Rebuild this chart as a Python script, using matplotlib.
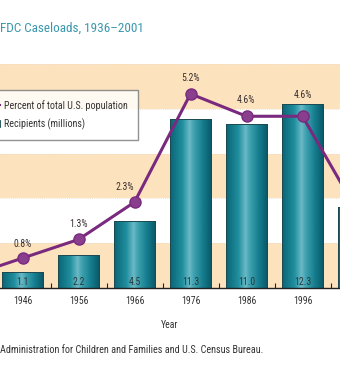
import matplotlib
matplotlib.use("Agg")
import matplotlib.pyplot as plt
import numpy as np
from matplotlib.colors import LinearSegmentedColormap
from matplotlib.lines import Line2D
from matplotlib.patches import Patch

plt.rcParams['font.family'] = ['Roboto Condensed', 'DejaVu Sans']

years = ['1936', '1946', '1956', '1966', '1976', '1986', '1996', '2001']
recipients = [0.5, 1.1, 2.2, 4.5, 11.3, 11.0, 12.3, 5.4]
recipient_labels = ['0.5', '1.1', '2.2', '4.5', '11.3', '11.0', '12.3', '5.4']
percent = [0.3, 0.8, 1.3, 2.3, 5.2, 4.6, 4.6, 2.0]
percent_labels = ['0.3%', '0.8%', '1.3%', '2.3%', '5.2%', '4.6%', '4.6%', '2.0%']

W, H = 340, 370
fig = plt.figure(figsize=(W / 100, H / 100), dpi=100)
fig.patch.set_facecolor('white')

def fx(px):
    return px / W

def fy(py):
    return (H - py) / H

ax = fig.add_axes([0, fy(288), 1, fy(64) - fy(288)])
ax.set_facecolor('white')
x = np.arange(len(years))
xlim = (1 - 22.5 / 56, 1 + (340 - 22.5) / 56)
visible = range(1, 7)

for lo in (0, 6, 12):
    ax.axhspan(lo, lo + 3, color='#fde2be', zorder=0, lw=0)
for yv in (3, 6, 9, 12, 15):
    ax.axhline(yv, color='#eadcc8', lw=0.6, ls=(0, (1, 1.5)), zorder=0.5)

cmap = LinearSegmentedColormap.from_list('bar', [
    (0.0, '#0b6676'), (0.3, '#1f8e9e'), (0.48, '#6dbac6'),
    (0.58, '#3fa2b0'), (0.8, '#167f90'), (1.0, '#0a5b6b')])
grad = np.linspace(0, 1, 64).reshape(1, -1)
bw = 41 / 56
bars = ax.bar(x, recipients, width=bw, color='#1f8e9e', edgecolor='#1d4a52',
              linewidth=0.7, zorder=2)
for b in bars:
    x0, y0 = b.get_x(), b.get_y()
    w, h = b.get_width(), b.get_height()
    im = ax.imshow(grad, cmap=cmap, extent=(x0, x0 + w, y0, y0 + h),
                   aspect='auto', zorder=2.1, interpolation='bicubic')
    im.set_clip_path(b)
    ax.add_patch(plt.Rectangle((x0, y0), w, h, fill=False, edgecolor='#1d4a52',
                               lw=0.7, zorder=2.2))

for i in visible:
    ax.text(x[i], 0.42, recipient_labels[i], ha='center', va='center',
            fontsize=7, color='#2a3a3c', zorder=3)

ax.set_xlim(*xlim)
ax.set_ylim(0, 15)
ax.set_xticks(x)
ax.set_xticklabels(years, fontsize=7, color='#333333')
ax.tick_params(axis='x', which='major', length=0, pad=6)
ax.set_xticks(x[:-1] + 0.5, minor=True)
ax.tick_params(axis='x', which='minor', length=3.5, direction='in', width=0.8,
               color='#222222')
ax.set_yticks([])
for s in ('left', 'right', 'top'):
    ax.spines[s].set_visible(False)
ax.spines['bottom'].set_color('#222222')
ax.spines['bottom'].set_linewidth(1.0)
ax.spines['bottom'].set_zorder(4)
ax.set_xlabel('Year', fontsize=7, color='#333333', labelpad=10)

ax2 = ax.twinx()
ax2.set_ylim(0, 6)
ax2.set_xlim(*xlim)
ax2.plot(x, percent, color='#7a2a7e', lw=2.2, marker='o', markersize=8,
         markerfacecolor='#8a3f8e', markeredgecolor='#7a2a7e', zorder=5)
offsets = {1: (0, 14), 2: (0, 15), 3: (-10, 15), 4: (0, 16), 5: (-1, 16), 6: (0, 21)}
for i in visible:
    ax2.annotate(percent_labels[i], (x[i], percent[i]), xytext=offsets[i],
                 textcoords='offset pixels', ha='center', va='center',
                 fontsize=7, color='#3a3030')
ax2.set_yticks([])
for s in ax2.spines.values():
    s.set_visible(False)

handles = [Line2D([0], [0], color='#7a2a7e', lw=1.5, marker='o', markersize=3),
           Patch(facecolor='#3d9fae', edgecolor='#1d4a52', lw=0.6)]
leg = fig.legend(handles, ['Percent of total U.S. population', 'Recipients (millions)'],
                 loc='upper right', bbox_to_anchor=(fx(138), fy(90)),
                 fontsize=7.2, frameon=True, fancybox=False, borderaxespad=0,
                 handlelength=1.6, handletextpad=0.4, labelspacing=0.75, borderpad=1.0)
leg.get_frame().set_edgecolor('#777777')
leg.get_frame().set_linewidth(1.0)
for t in leg.get_texts():
    t.set_color('#333333')

fig.text(fx(0), fy(28), 'FDC Caseloads, 1936\u20132001', ha='left', va='center',
         fontsize=9.5, color='#3a98ae')
fig.text(fx(0), fy(350), 'Administration for Children and Families and U.S. Census Bureau.',
         ha='left', va='center', fontsize=7.3, color='#333333')

fig.savefig('out.png', dpi=100, facecolor='white')
